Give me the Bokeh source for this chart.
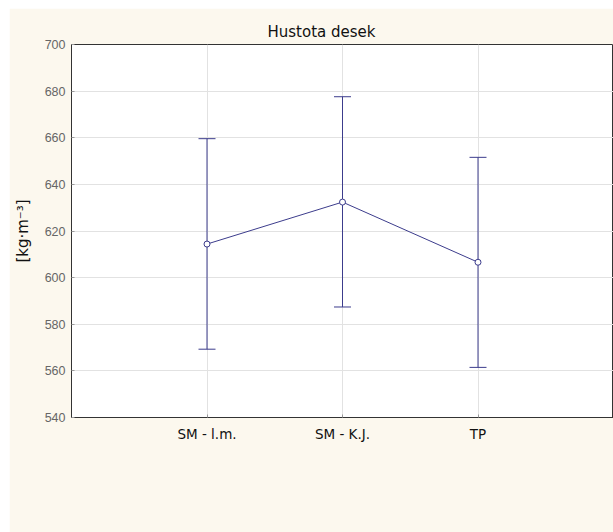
from bokeh.plotting import figure
from bokeh.models import Range1d, FixedTicker, ColumnDataSource, Whisker, TeeHead
from bokeh.embed import file_html
from bokeh.resources import INLINE

# Board density by group: mean with lower/upper interval bounds
categories = ["SM - l.m.", "SM - K.J.", "TP"]
means = [614.4, 632.4, 606.6]
upper = [659.6, 677.6, 651.6]
lower = [569.3, 587.4, 561.5]
y_ticks = [540, 560, 580, 600, 620, 640, 660, 680, 700]

xs = list(range(1, len(categories) + 1))
src = ColumnDataSource(data=dict(x=xs, mean=means, upper=upper, lower=lower))

INK = "#3c3c8c"
CREAM = "#fcf8ee"

p = figure(
    width=604, height=524,
    x_range=Range1d(0, len(categories) + 1),
    y_range=Range1d(540, 700),
    output_backend="svg", toolbar_location=None,
    min_border_left=62, min_border_right=0,
    min_border_top=36, min_border_bottom=115,
    title="Hustota desek",
)
p.margin = (8, 0, 0, 9)

p.background_fill_color = "white"
p.border_fill_color = CREAM
p.outline_line_color = "#333333"

p.title.align = "left"
p.title.offset = 196
p.title.text_font = "DejaVu Sans"
p.title.text_font_size = "15px"
p.title.text_font_style = "normal"
p.title.text_color = "#111111"
p.title.standoff = 8

# axes
p.xaxis.ticker = FixedTicker(ticks=xs)
p.xaxis.major_label_overrides = {x: c for x, c in zip(xs, categories)}
p.xaxis.major_label_text_font = "DejaVu Sans"
p.xaxis.major_label_text_font_size = "13.5px"
p.xaxis.major_label_text_color = "#111111"
p.xaxis.major_label_standoff = 8
p.xaxis.major_tick_in = 3
p.xaxis.major_tick_out = 0
p.xaxis.minor_tick_line_color = None
p.xaxis.axis_line_color = "#333333"
p.xaxis.major_tick_line_color = "#999999"

p.yaxis.ticker = FixedTicker(ticks=y_ticks)
p.yaxis.major_label_text_font = "Liberation Sans"
p.yaxis.major_label_text_font_size = "12.5px"
p.yaxis.major_label_text_color = "#666666"
p.yaxis.major_label_standoff = 6
p.yaxis.major_tick_in = 3
p.yaxis.major_tick_out = 0
p.yaxis.minor_tick_line_color = None
p.yaxis.axis_line_color = "#333333"
p.yaxis.major_tick_line_color = "#999999"
p.yaxis.axis_label = "[kg·m⁻³]"
p.yaxis.axis_label_text_font = "DejaVu Sans"
p.yaxis.axis_label_text_font_size = "15px"
p.yaxis.axis_label_text_font_style = "normal"
p.yaxis.axis_label_text_color = "#111111"
p.yaxis.axis_label_standoff = 10

p.xgrid.ticker = FixedTicker(ticks=xs)
p.xgrid.grid_line_color = "#e2e2e2"
p.ygrid.grid_line_color = "#e2e2e2"

# interval bars
whisk = Whisker(
    source=src, base="x", upper="upper", lower="lower",
    line_color=INK, line_width=1,
    upper_head=TeeHead(size=17, line_color=INK, line_width=1),
    lower_head=TeeHead(size=17, line_color=INK, line_width=1),
)
p.add_layout(whisk)

# means
p.line("x", "mean", source=src, line_color=INK, line_width=1)
p.scatter("x", "mean", source=src, marker="circle", size=6,
          fill_color="white", line_color=INK, line_width=1)

open("out.html", "w").write(file_html(p, INLINE))
